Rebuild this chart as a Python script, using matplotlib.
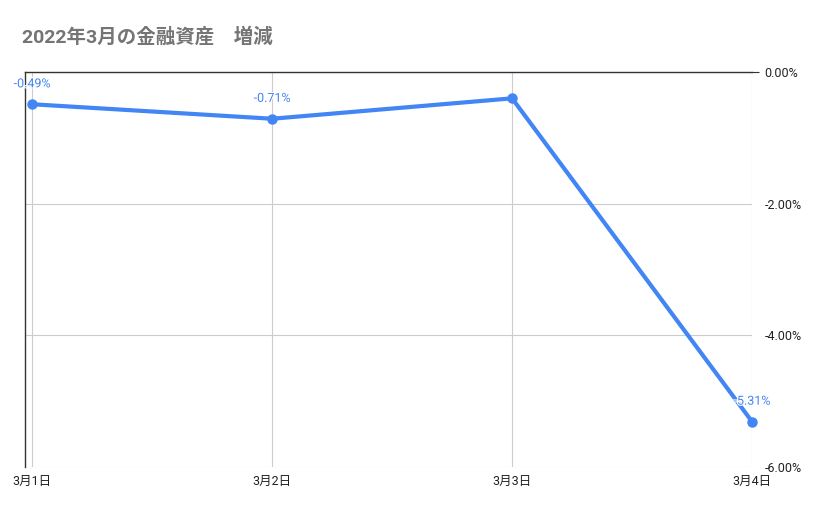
import matplotlib
matplotlib.use('Agg')
import matplotlib.pyplot as plt
import matplotlib.patheffects as pe
from matplotlib.ticker import FuncFormatter

# data
dates = ['3月1日', '3月2日', '3月3日', '3月4日']
change_pct = [-0.49, -0.71, -0.40, -5.31]
labelled = [True, True, False, True]
y_ticks = [0, -2, -4, -6]

plt.rcParams['font.family'] = ['Roboto', 'Noto Sans CJK JP', 'DejaVu Sans']

fig = plt.figure(figsize=(8.29, 5.14), dpi=100)
ax = fig.add_axes([25 / 829, 47 / 514, 727 / 829, 395 / 514])

x = list(range(len(dates)))
ax.plot(x, change_pct, color='#4285F4', linewidth=3, marker='o', markersize=6.5,
        solid_capstyle='round', zorder=3, clip_on=False)

# labels get a white halo so they stay readable where the line runs under them
for xi, v, show in zip(x, change_pct, labelled):
    if show:
        ax.annotate('%.2f%%' % v, (xi, v), xytext=(0, 10), textcoords='offset points',
                    ha='center', va='bottom', fontsize=9, color='#4285F4', zorder=5,
                    path_effects=[pe.withStroke(linewidth=1.5, foreground='white')])

ax.set_xlim(-0.03, 3)
ax.set_ylim(-6, 0)
ax.set_xticks(x)
ax.set_xticklabels(dates)
ax.set_yticks(y_ticks)
ax.yaxis.set_major_formatter(FuncFormatter(lambda v, p: '%.2f%%' % v if v != 0 else '0.00%'))
ax.yaxis.tick_right()

ax.grid(True, color='#cccccc', linewidth=0.8)
ax.set_axisbelow(True)
for side in ['right', 'bottom']:
    ax.spines[side].set_visible(False)
for side in ['top', 'left']:
    ax.spines[side].set_color('#333333')
    ax.spines[side].set_linewidth(1)

ax.tick_params(axis='x', length=0, pad=6, labelsize=9, labelcolor='#222222')
ax.tick_params(axis='y', length=5, pad=4, labelsize=9, labelcolor='#222222', color='#333333')
for i, t in enumerate(ax.yaxis.get_major_ticks()):
    if y_ticks[i] != 0:
        t.tick2line.set_visible(False)

fig.text(22 / 829, 1 - 37 / 514, '2022年3月の金融資産　増減', fontsize=14, fontweight='bold',
         color='#757575', va='center', ha='left')

fig.savefig('out.png', dpi=100)
